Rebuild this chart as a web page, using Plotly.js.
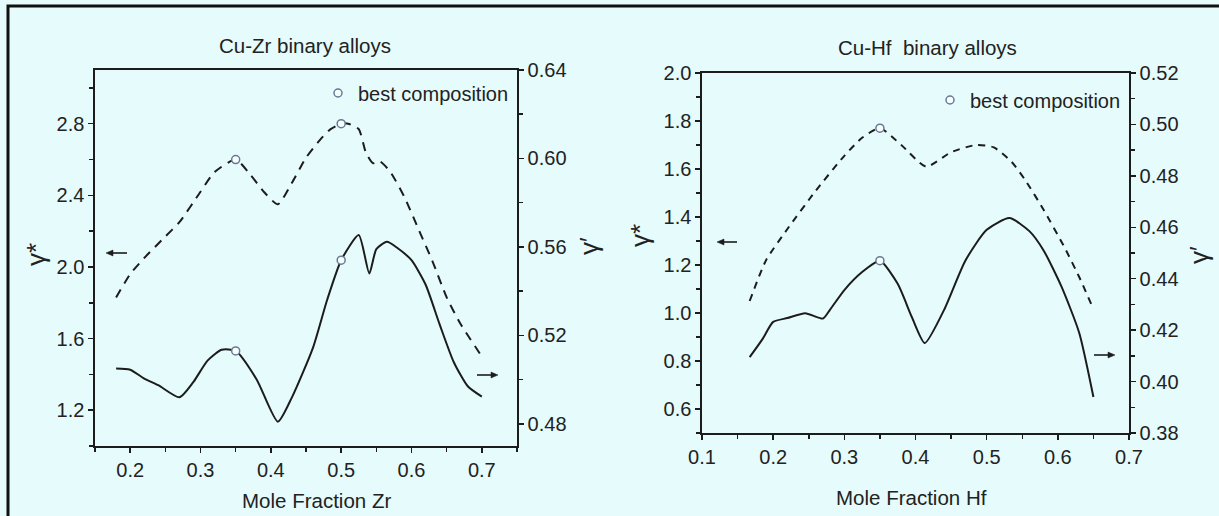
<!DOCTYPE html>
<html>
<head>
<meta charset="utf-8">
<script src="https://cdn.plot.ly/plotly-3.0.1.min.js"></script>
<style>
  html, body { margin: 0; padding: 0; background: #e6fbfb; }
  #chart { width: 1219px; height: 516px; }
</style>
</head>
<body>
<div id="chart"></div>
<script>
// ---- Cu-Zr binary alloys ----
const zrXStar   = [0.18, 0.20, 0.22, 0.25, 0.27, 0.30, 0.32, 0.35, 0.37, 0.39, 0.41, 0.43, 0.45, 0.47, 0.485, 0.50, 0.51, 0.525, 0.535, 0.545, 0.555, 0.57, 0.59, 0.61, 0.63, 0.65, 0.67, 0.70];
const zrGStar   = [1.83, 1.96, 2.05, 2.17, 2.25, 2.42, 2.53, 2.60, 2.52, 2.42, 2.35, 2.47, 2.61, 2.71, 2.77, 2.80, 2.80, 2.77, 2.64, 2.58, 2.59, 2.53, 2.39, 2.21, 2.03, 1.83, 1.68, 1.50];
const zrXPrime  = [0.18, 0.20, 0.22, 0.24, 0.27, 0.29, 0.31, 0.33, 0.35, 0.38, 0.41, 0.43, 0.46, 0.48, 0.50, 0.525, 0.54, 0.55, 0.565, 0.58, 0.60, 0.62, 0.64, 0.66, 0.68, 0.70];
const zrGPrime  = [0.505, 0.5045, 0.5005, 0.4975, 0.492, 0.499, 0.5086, 0.5135, 0.513, 0.500, 0.481, 0.492, 0.5145, 0.536, 0.554, 0.5654, 0.548, 0.559, 0.5623, 0.5595, 0.554, 0.543, 0.525, 0.508, 0.497, 0.4923];
const zrBestX      = [0.35, 0.50];
const zrBestGStar  = [2.60, 2.80];
const zrBestGPrime = [0.513, 0.554];

// ---- Cu-Hf binary alloys ----
const hfXStar   = [0.167, 0.19, 0.22, 0.26, 0.30, 0.325, 0.35, 0.38, 0.415, 0.45, 0.485, 0.51, 0.535, 0.555, 0.58, 0.61, 0.63, 0.648];
const hfGStar   = [1.05, 1.22, 1.35, 1.51, 1.655, 1.73, 1.77, 1.70, 1.61, 1.67, 1.70, 1.69, 1.63, 1.55, 1.43, 1.27, 1.15, 1.03];
const hfXPrime  = [0.167, 0.185, 0.20, 0.22, 0.245, 0.27, 0.28, 0.30, 0.325, 0.35, 0.375, 0.395, 0.413, 0.44, 0.47, 0.50, 0.532, 0.56, 0.58, 0.605, 0.63, 0.65];
const hfGPrime  = [0.4095, 0.4165, 0.4232, 0.4247, 0.4266, 0.4245, 0.428, 0.4356, 0.4426, 0.447, 0.438, 0.425, 0.415, 0.4278, 0.447, 0.459, 0.4636, 0.4585, 0.451, 0.437, 0.419, 0.394];
const hfBestX      = [0.35];
const hfBestGStar  = [1.77];
const hfBestGPrime = [0.447];

const legendLabel = 'best composition';

// ---- figure geometry (pixels) ----
const W = 1219, H = 516;
const fx = p => p / W;
const fy = p => 1 - p / H;

const BG = '#e6fbfb';
const INK = '#1c1c1c';
const TXT = '#222';
const FONT = 'Liberation Sans, Arial, sans-serif';

const markerStyle = { symbol: 'circle', size: 8, color: '#f4ffff', line: { color: '#6b7896', width: 1.5 } };

function curve(x, y, xa, ya, dash) {
  return {
    x: x, y: y, xaxis: xa, yaxis: ya, type: 'scatter', mode: 'lines',
    line: { color: INK, width: 2, dash: dash, shape: 'spline', smoothing: 0.6 },
    showlegend: false, hoverinfo: 'skip'
  };
}
function best(x, y, xa, ya, legend, show) {
  return {
    x: x, y: y, xaxis: xa, yaxis: ya, type: 'scatter', mode: 'markers',
    marker: markerStyle, name: legendLabel, legend: legend, showlegend: show
  };
}

const data = [
  curve(zrXStar, zrGStar, 'x', 'y', '9px,7px'),
  curve(zrXPrime, zrGPrime, 'x', 'y2', 'solid'),
  best(zrBestX, zrBestGStar, 'x', 'y', 'legend', true),
  best(zrBestX, zrBestGPrime, 'x', 'y2', 'legend', false),
  curve(hfXStar, hfGStar, 'x3', 'y3', '7px,6px'),
  curve(hfXPrime, hfGPrime, 'x3', 'y4', 'solid'),
  best(hfBestX, hfBestGStar, 'x3', 'y3', 'legend2', true),
  best(hfBestX, hfBestGPrime, 'x3', 'y4', 'legend2', false)
];

const tickFont = { family: FONT, size: 20, color: TXT };
function axisBase(extra) {
  return Object.assign({
    showgrid: false, zeroline: false, showline: true, linecolor: INK, linewidth: 1.6,
    ticks: 'outside', ticklen: 5, tickwidth: 1.5, tickcolor: INK,
    tickfont: tickFont, automargin: false, fixedrange: true
  }, extra);
}
function minor(dt) {
  return { ticks: 'outside', dtick: dt, ticklen: 4, tickwidth: 1.5, tickcolor: INK, showgrid: false };
}

// pointer arrows next to the axes: a shaft plus a filled head, in pixels
function arrowShapes(xHead, y, xTail) {
  const dir = xTail > xHead ? 1 : -1;
  const hl = 7, hw = 3;
  const shaft = { type: 'line', xref: 'paper', yref: 'paper',
                  x0: fx(xTail), x1: fx(xHead + dir * hl), y0: fy(y), y1: fy(y),
                  line: { color: INK, width: 1.6 } };
  const head = { type: 'path', xref: 'paper', yref: 'paper',
                 path: 'M ' + fx(xHead) + ' ' + fy(y) +
                       ' L ' + fx(xHead + dir * hl) + ' ' + fy(y - hw) +
                       ' L ' + fx(xHead + dir * hl) + ' ' + fy(y + hw) + ' Z',
                 fillcolor: INK, line: { color: INK, width: 0.5 } };
  return [shaft, head];
}
function label(text, xc, yc, size, angle) {
  return { xref: 'paper', yref: 'paper', x: fx(xc), y: fy(yc), xanchor: 'center', yanchor: 'middle',
           text: text, showarrow: false, textangle: angle || 0, font: { family: FONT, size: size, color: TXT } };
}

const gammaStar = '\u03b3*';
const gammaPrime = '\u03b3\u2032';

const layout = {
  width: W, height: H,
  margin: { l: 0, r: 0, t: 0, b: 0 },
  paper_bgcolor: BG, plot_bgcolor: BG,
  font: { family: FONT, color: TXT },

  // Cu-Zr panel
  xaxis: axisBase({ domain: [fx(95), fx(517)], anchor: 'y', range: [0.15, 0.75], dtick: 0.1, tick0: 0,
                    tickformat: '.1f', minor: minor(0.05), mirror: true }),
  xaxis2: axisBase({ overlaying: 'x', side: 'top', anchor: 'y', range: [-1.03, 3.19], dtick: 1,
                     ticks: 'inside', showticklabels: false, showline: false }),
  yaxis: axisBase({ domain: [fy(446), fy(70)], anchor: 'x', range: [1.0, 3.1], dtick: 0.4, tick0: 0,
                    tickformat: '.1f', minor: minor(0.2) }),
  yaxis2: axisBase({ overlaying: 'y', side: 'right', anchor: 'x', range: [0.47, 0.64], dtick: 0.04, tick0: 0,
                     tickformat: '.2f', minor: minor(0.02) }),

  // Cu-Hf panel
  xaxis3: axisBase({ domain: [fx(702), fx(1129)], anchor: 'y3', range: [0.1, 0.7], dtick: 0.1, tick0: 0,
                     tickformat: '.1f', minor: minor(0.05), mirror: true }),
  xaxis4: axisBase({ overlaying: 'x3', side: 'top', anchor: 'y3', range: [0, 1], dtick: 0.1,
                     ticks: 'inside', showticklabels: false, showline: false }),
  yaxis3: axisBase({ domain: [fy(433), fy(73)], anchor: 'x3', range: [0.5, 2.0], dtick: 0.2, tick0: 0,
                     tickformat: '.1f', minor: minor(0.1) }),
  yaxis4: axisBase({ overlaying: 'y3', side: 'right', anchor: 'x3', range: [0.38, 0.52], dtick: 0.02, tick0: 0,
                     tickformat: '.2f', minor: minor(0.01) }),

  legend: { x: fx(318), y: fy(93), xanchor: 'left', yanchor: 'middle', bgcolor: 'rgba(0,0,0,0)',
            borderwidth: 0, font: { family: FONT, size: 20, color: TXT } },
  legend2: { x: fx(930), y: fy(100), xanchor: 'left', yanchor: 'middle', bgcolor: 'rgba(0,0,0,0)',
             borderwidth: 0, font: { family: FONT, size: 20, color: TXT } },

  annotations: [
    label('Cu-Zr binary alloys', 305, 45, 20.5),
    label('Cu-Hf\u00a0 binary alloys', 927, 48, 20.5),
    label('Mole Fraction Zr', 316, 500, 20.5),
    label('Mole Fraction Hf', 911, 497, 20.5),
    label(gammaStar, 36, 255, 26, -90),
    label(gammaPrime, 589, 246, 26, -90),
    label(gammaStar, 640, 236, 26, -90),
    label(gammaPrime, 1199, 255, 26, -90)
  ],

  shapes: [
    { type: 'rect', xref: 'paper', yref: 'paper', x0: fx(8), x1: fx(1230), y0: fy(530), y1: fy(6),
      line: { color: '#111', width: 3 }, fillcolor: 'rgba(0,0,0,0)', layer: 'above' }
  ].concat(
    arrowShapes(106, 253, 127),
    arrowShapes(498, 375, 477),
    arrowShapes(717, 242, 737),
    arrowShapes(1115, 355, 1094)
  )
};

Plotly.newPlot('chart', data, layout, { displayModeBar: false, staticPlot: true });
</script>
</body>
</html>
